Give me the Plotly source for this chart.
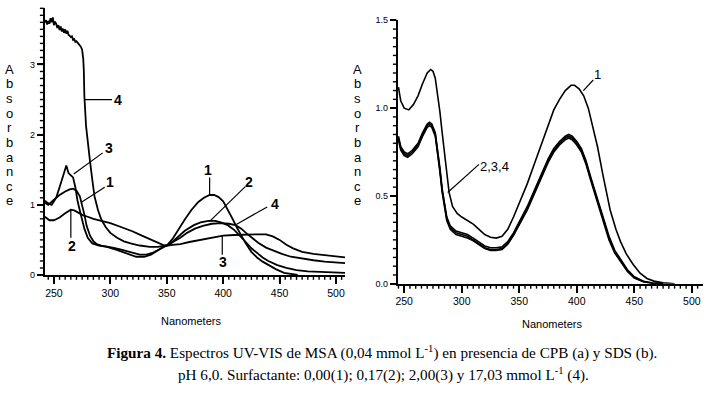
import plotly.graph_objects as go

W, H = 709, 395

# ---------------- (a) CPB ----------------
a1_x = [242, 245, 249, 255, 260, 264, 267, 270, 273, 275, 277, 279, 282, 285, 288, 292, 297, 302, 308, 314,
        320, 326, 332, 338, 344, 350, 355, 360, 366, 372, 378, 383, 388, 392, 396, 400, 404, 408, 412, 416,
        420, 425, 430, 435, 440, 447, 454, 460, 466]
a1_y = [1.03, 1.00, 1.06, 1.14, 1.19, 1.22, 1.23, 1.20, 1.12, 1.00, 0.86, 0.70, 0.56, 0.48, 0.44, 0.42, 0.41, 0.39, 0.37, 0.34,
        0.31, 0.29, 0.29, 0.32, 0.37, 0.42, 0.51, 0.64, 0.79, 0.93, 1.04, 1.10, 1.14, 1.14, 1.11, 1.05, 0.94, 0.81, 0.68, 0.56,
        0.45, 0.33, 0.25, 0.19, 0.14, 0.08, 0.03, 0.01, 0.0]

a2_x = [242, 246, 250, 255, 260, 265, 268, 272, 276, 280, 285, 292, 300, 310, 320, 328, 335, 342, 348, 352,
        358, 366, 374, 380, 387, 393, 398, 404, 410, 415, 420, 425, 430, 435, 440, 448, 456, 465, 475, 490, 508]
a2_y = [0.83, 0.78, 0.78, 0.82, 0.88, 0.93, 0.92, 0.88, 0.85, 0.83, 0.80, 0.77, 0.74, 0.68, 0.62, 0.56, 0.51, 0.46, 0.42, 0.43,
        0.51, 0.63, 0.71, 0.75, 0.77, 0.77, 0.75, 0.71, 0.64, 0.56, 0.47, 0.38, 0.31, 0.25, 0.20, 0.14, 0.10, 0.07, 0.05, 0.04, 0.03]

a3_x = [242, 245, 248, 252, 256, 260, 261, 263, 265, 267, 269, 271, 274, 277, 280, 284, 290, 297, 305, 312,
        318, 323, 330, 336, 342, 348, 355, 362, 370, 380, 390, 400, 410, 420, 430, 438, 444, 450, 456, 462,
        470, 480, 490, 500, 508]
a3_y = [1.06, 1.02, 1.00, 1.10, 1.30, 1.53, 1.56, 1.45, 1.42, 1.39, 1.25, 1.05, 0.85, 0.66, 0.53, 0.45, 0.42, 0.40, 0.36, 0.32,
        0.28, 0.26, 0.26, 0.29, 0.35, 0.41, 0.43, 0.44, 0.47, 0.50, 0.54, 0.56, 0.57, 0.58, 0.58, 0.58, 0.55, 0.50, 0.43, 0.38,
        0.33, 0.30, 0.28, 0.26, 0.25]

a4_x = [242, 243, 244, 245, 246, 247, 248, 249, 250, 251, 252, 253, 254, 255, 256, 257, 258, 259, 260, 261,
        262, 263, 264, 265, 266, 267, 268, 269, 270, 271, 272, 273, 274, 275, 276, 276.5, 277, 278.5, 280, 282,
        284, 286, 289, 292, 296, 300, 306, 312, 318, 326, 335, 342, 350, 356, 362, 368, 375, 382, 390, 398,
        405, 411, 416, 421, 426, 431, 438, 445, 452, 460, 470, 480, 490, 500, 508]
a4_y = [3.60, 3.63, 3.57, 3.62, 3.58, 3.66, 3.60, 3.67, 3.56, 3.61, 3.58, 3.52, 3.56, 3.49, 3.54, 3.47, 3.51, 3.45, 3.50, 3.44,
        3.48, 3.42, 3.41, 3.39, 3.40, 3.35, 3.36, 3.32, 3.33, 3.30, 3.29, 3.27, 3.25, 3.21, 3.08, 2.92, 2.55, 2.12, 1.86, 1.62,
        1.36, 1.12, 0.93, 0.79, 0.68, 0.60, 0.53, 0.48, 0.45, 0.42, 0.40, 0.40, 0.42, 0.47, 0.53, 0.60, 0.66, 0.70, 0.73, 0.74,
        0.73, 0.71, 0.66, 0.59, 0.52, 0.46, 0.39, 0.34, 0.30, 0.26, 0.23, 0.21, 0.19, 0.18, 0.17]

# ---------------- (b) SDS ----------------
b1_x = [245, 247, 250, 254, 258, 262, 266, 270, 273, 275, 277, 279, 281, 283, 285, 287, 289, 292, 296, 300,
        305, 310, 315, 320, 325, 330, 335, 340, 345, 350, 357, 363, 369, 375, 380, 385, 390, 395, 398, 402,
        406, 410, 414, 418, 423, 429, 434, 438, 443, 449, 455, 461, 467, 475, 485]
b1_y = [1.12, 1.04, 1.00, 0.99, 1.02, 1.07, 1.14, 1.20, 1.22, 1.21, 1.17, 1.08, 0.98, 0.86, 0.75, 0.63, 0.52, 0.44, 0.40, 0.38,
        0.36, 0.34, 0.31, 0.28, 0.265, 0.26, 0.27, 0.31, 0.38, 0.46, 0.57, 0.68, 0.79, 0.90, 0.99, 1.05, 1.10, 1.13, 1.13, 1.11,
        1.07, 1.00, 0.89, 0.78, 0.61, 0.42, 0.31, 0.24, 0.17, 0.11, 0.06, 0.03, 0.015, 0.005, 0.0]

b_x = [245, 247, 250, 253, 257, 262, 266, 270, 272, 274, 277, 279, 281, 283, 285, 287, 290, 295, 300, 305,
       310, 315, 320, 325, 330, 335, 340, 345, 350, 357, 363, 369, 375, 380, 385, 390, 393, 396, 400, 404,
       408, 412, 418, 423, 428, 433, 438, 444, 450, 458, 466, 475]
b2_y = [0.84, 0.78, 0.75, 0.74, 0.76, 0.80, 0.86, 0.91, 0.92, 0.91, 0.86, 0.77, 0.66, 0.54, 0.45, 0.38, 0.33, 0.30, 0.29, 0.28,
        0.26, 0.235, 0.215, 0.205, 0.205, 0.21, 0.24, 0.29, 0.35, 0.44, 0.53, 0.62, 0.71, 0.77, 0.81, 0.84, 0.85, 0.84, 0.81, 0.77,
        0.70, 0.61, 0.48, 0.37, 0.27, 0.19, 0.14, 0.08, 0.04, 0.014, 0.004, 0.0]
b3_y = [0.83, 0.77, 0.74, 0.73, 0.75, 0.79, 0.85, 0.90, 0.91, 0.90, 0.85, 0.76, 0.65, 0.53, 0.44, 0.37, 0.32, 0.29, 0.28, 0.27,
        0.25, 0.225, 0.205, 0.195, 0.195, 0.20, 0.23, 0.28, 0.34, 0.43, 0.52, 0.61, 0.70, 0.76, 0.80, 0.83, 0.84, 0.83, 0.80, 0.76,
        0.69, 0.60, 0.47, 0.36, 0.26, 0.18, 0.13, 0.075, 0.035, 0.012, 0.003, 0.0]
b4_y = [0.82, 0.76, 0.73, 0.72, 0.74, 0.78, 0.84, 0.89, 0.90, 0.89, 0.84, 0.75, 0.64, 0.52, 0.43, 0.36, 0.31, 0.28, 0.27, 0.26,
        0.245, 0.22, 0.20, 0.19, 0.19, 0.195, 0.225, 0.275, 0.335, 0.42, 0.51, 0.60, 0.69, 0.75, 0.79, 0.82, 0.83, 0.82, 0.79, 0.75,
        0.68, 0.59, 0.46, 0.35, 0.25, 0.175, 0.125, 0.07, 0.033, 0.011, 0.003, 0.0]

xticks = [250, 300, 350, 400, 450, 500]
xticktext = ["250", "300", "350", "400", "450", "500"]
ya_ticks = [0, 1, 2, 3]
ya_ticktext = ["0", "1", "2", "3"]
yb_ticks = [0.0, 0.5, 1.0, 1.5]
yb_ticktext = ["0.0", "0.5", "1.0", "1.5"]

SANS = "Arial, Liberation Sans, sans-serif"
SERIF = "Times New Roman, Liberation Serif, serif"

XA_RANGE, YA_RANGE = [242, 508], [0, 3.8]
XB_RANGE, YB_RANGE = [244.5, 509.7], [0, 1.5]
# plot boxes in pixels: left, right, bottom, top
BOX_A = (43, 344, 277, 3.4)
BOX_B = (397, 703, 286, 15.7)


def px(xp):
    return xp / W


def py(yp):
    return 1 - yp / H


fig = go.Figure()
for xs, ys in [(a1_x, a1_y), (a2_x, a2_y), (a3_x, a3_y), (a4_x, a4_y)]:
    fig.add_trace(go.Scatter(x=xs, y=ys, mode="lines", line=dict(color="black", width=1.8),
                             xaxis="x", yaxis="y", showlegend=False, hoverinfo="skip"))
for xs, ys in [(b1_x, b1_y), (b_x, b2_y), (b_x, b3_y), (b_x, b4_y)]:
    fig.add_trace(go.Scatter(x=xs, y=ys, mode="lines", line=dict(color="black", width=1.6),
                             xaxis="x2", yaxis="y2", showlegend=False, hoverinfo="skip"))


def xax(box, rng, anchor):
    return dict(showgrid=False, zeroline=False, showline=True, linecolor="black", linewidth=2,
                ticks="outside", ticklen=7, tickwidth=1.5, tickcolor="black",
                tickmode="array", tickvals=xticks, ticktext=xticktext,
                tickfont=dict(family=SANS, size=10.5, color="black"),
                domain=[px(box[0]), px(box[1])], range=rng, anchor=anchor)


def yax(box, rng, anchor, vals, text):
    return dict(showgrid=False, zeroline=False, showline=True, linecolor="black", linewidth=2,
                ticks="outside", ticklen=6, tickwidth=1.5, tickcolor="black",
                tickmode="array", tickvals=vals, ticktext=text,
                tickfont=dict(family=SANS, size=9, color="black"),
                domain=[py(box[2]), py(box[3])], range=rng, anchor=anchor)


fig.update_layout(
    width=W, height=H, margin=dict(l=0, r=0, t=0, b=0),
    paper_bgcolor="white", plot_bgcolor="white",
    xaxis=xax(BOX_A, XA_RANGE, "y"),
    yaxis=yax(BOX_A, YA_RANGE, "x", ya_ticks, ya_ticktext),
    xaxis2=xax(BOX_B, XB_RANGE, "y2"),
    yaxis2=yax(BOX_B, YB_RANGE, "x2", yb_ticks, yb_ticktext),
)

ann = []
shapes = []

# ruler-style tick marks, drawn in paper space (outside the clipped plot areas)
TICK = dict(color="black", width=1.4)
for box, xr in ((BOX_A, XA_RANGE), (BOX_B, XB_RANGE)):
    left, right, bottom, top = box
    for v in range(245, 510, 5):
        if v < xr[0] or v > xr[1]:
            continue
        xp_ = left + (v - xr[0]) / (xr[1] - xr[0]) * (right - left)
        ln = 7 if v % 50 == 0 else 5
        shapes.append(dict(type="line", xref="paper", yref="paper", x0=px(xp_), x1=px(xp_),
                           y0=py(bottom + 1), y1=py(bottom + ln), line=TICK))
for box, yr, step, major in ((BOX_A, YA_RANGE, 0.1, 10), (BOX_B, YB_RANGE, 0.05, 10)):
    left, right, bottom, top = box
    n = int(round((yr[1] - yr[0]) / step))
    for i in range(0, n + 1):
        v = i * step
        yp_ = bottom - (v - yr[0]) / (yr[1] - yr[0]) * (bottom - top)
        ln = 7 if i % major == 0 else 5
        shapes.append(dict(type="line", xref="paper", yref="paper", x0=px(left - 1), x1=px(left - ln),
                           y0=py(yp_), y1=py(yp_), line=TICK))


def label(text, x, y, xr, yr, size=14, bold=True, xanchor="center"):
    ann.append(dict(text=("<b>%s</b>" % text) if bold else text, x=x, y=y, xref=xr, yref=yr,
                    showarrow=False, xanchor=xanchor, yanchor="middle",
                    font=dict(family=SANS, size=size, color="black")))


def leader(x0, y0, x1, y1, xr, yr, w=1.2):
    shapes.append(dict(type="line", x0=x0, y0=y0, x1=x1, y1=y1, xref=xr, yref=yr,
                       line=dict(color="black", width=w)))

# (a) labels
label("4", 307, 2.49, "x", "y")
leader(277.3, 2.5, 301.5, 2.5, "x", "y")
label("3", 299, 1.81, "x", "y")
leader(267.6, 1.44, 293.2, 1.74, "x", "y")
label("1", 299.5, 1.32, "x", "y")
leader(274.7, 1.04, 295, 1.25, "x", "y")
label("2", 266, 0.42, "x", "y")
leader(265, 0.93, 265, 0.53, "x", "y")
label("1", 386.5, 1.49, "x", "y")
leader(388, 1.39, 388, 1.14, "x", "y")
label("2", 422.5, 1.32, "x", "y")
leader(419.6, 1.26, 387.8, 0.76, "x", "y")
label("4", 445.5, 1.01, "x", "y")
leader(439, 0.97, 411.6, 0.72, "x", "y")
label("3", 400, 0.19, "x", "y")
leader(399.2, 0.29, 399.2, 0.56, "x", "y")

# (b) labels
label("1", 418, 1.19, "x2", "y2", size=13, bold=False)
leader(414.3, 1.16, 405.7, 1.10, "x2", "y2")
label("2,3,4", 314.5, 0.67, "x2", "y2", size=13, bold=False, xanchor="left")
leader(315, 0.68, 287.8, 0.52, "x2", "y2")

# vertical "Absorbance" titles, one letter per row
for xp in (8, 357):
    for i, ch in enumerate("Absorbance"):
        ann.append(dict(text=ch, x=px(xp), y=py(66 + i * 15), xref="paper", yref="paper", showarrow=False,
                        xanchor="center", yanchor="middle",
                        font=dict(family=SANS, size=13, color="black")))
ann.append(dict(text="Nanometers", x=px(190), y=py(324), xref="paper", yref="paper", showarrow=False,
                xanchor="center", yanchor="middle", font=dict(family=SANS, size=11, color="black")))
ann.append(dict(text="Nanometers", x=px(552), y=py(327), xref="paper", yref="paper", showarrow=False,
                xanchor="center", yanchor="middle", font=dict(family=SANS, size=11, color="black")))

ann.append(dict(text="<b>Figura 4.</b> Espectros UV-VIS de MSA (0,04 mmol L<sup>-1</sup>) en presencia de CPB (a) y SDS (b).",
                x=px(381), y=py(357), xref="paper", yref="paper", showarrow=False, xanchor="center",
                yanchor="middle", font=dict(family=SERIF, size=15.2, color="black")))
ann.append(dict(text="pH 6,0. Surfactante: 0,00(1); 0,17(2); 2,00(3) y 17,03 mmol L<sup>-1</sup> (4).",
                x=px(383), y=py(379), xref="paper", yref="paper", showarrow=False, xanchor="center",
                yanchor="middle", font=dict(family=SERIF, size=15.2, color="black")))

fig.update_layout(annotations=ann, shapes=shapes)
fig.write_html("out.html", config={"displayModeBar": False},
               post_script="document.body.style.margin='0px';document.body.style.overflow='hidden';")
